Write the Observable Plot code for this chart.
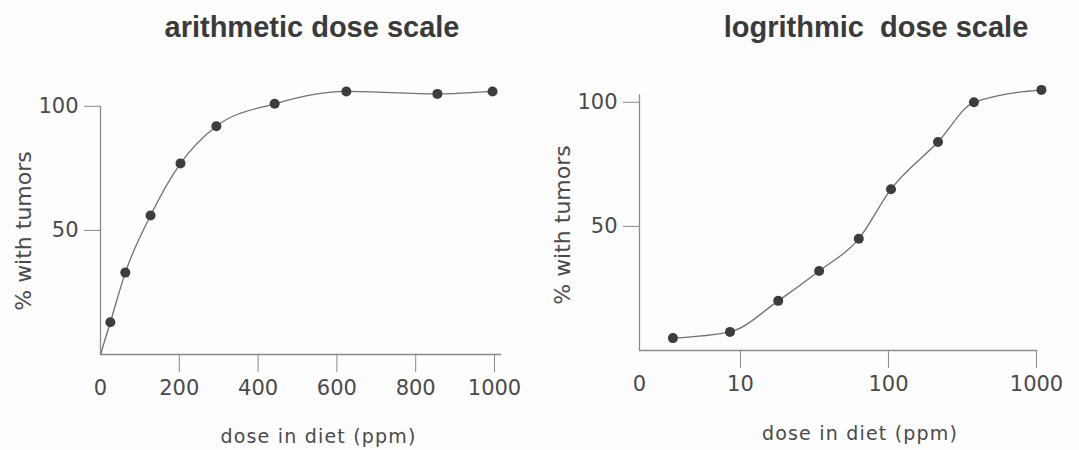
<!DOCTYPE html>
<html><head><meta charset="utf-8">
<script src="https://cdn.jsdelivr.net/npm/d3@7"></script>
<script src="https://cdn.jsdelivr.net/npm/@observablehq/plot@0.6"></script>
<style>
body{margin:0;background:#fdfdfd;}
#wrap{position:relative;width:1079px;height:450px;overflow:hidden;background:#fdfdfd;}
.title{position:absolute;top:13px;font:bold 29px "Liberation Sans",Arial,sans-serif;color:#3a3a3a;white-space:pre;transform:translateX(-50%);line-height:29px;}
.panel{position:absolute;top:50px;}
</style></head><body>
<div id="wrap">
  <div class="title" id="t1"></div>
  <div class="title" id="t2"></div>
  <div class="panel" id="p1" style="left:0px"></div>
  <div class="panel" id="p2" style="left:540px"></div>
</div>
<script>
// ---- data ----
const titles = ["arithmetic dose scale", "logrithmic  dose scale"];
const xLabel = "dose in diet (ppm)";
const yLabel = "% with tumors";

// arithmetic panel
const arithDose = [25, 63, 127, 203, 294, 442, 624, 855, 995];
const arithPct  = [13, 33, 56, 77, 92, 101, 106, 105, 106];
const arithStart = {dose: 0, pct: 0};
const arithTicks = [200, 400, 600, 800, 1000];
const arithTickLabels = [0, 200, 400, 600, 800, 1000];
const yTicks = [50, 100];

// logarithmic panel
const logDose = [3.5, 8.5, 18, 34, 63, 104, 216, 378, 1080];
const logPct  = [5, 7.5, 20, 32, 45, 65, 84, 100, 105];
const logMin = 2.08;
const logTicks = [10, 100, 1000];
const logTickLabels = [logMin, 10, 100, 1000];

// ---- build ----
document.getElementById("t1").textContent = titles[0];
document.getElementById("t1").style.left = "312px";
document.getElementById("t2").textContent = titles[1];
document.getElementById("t2").style.left = "876px";

const axisColor = "#8a8a8a";
const lineColor = "#707070";
const dotColor = "#3d3d3d";
const textColor = "#4a4a4a";

const arithRows = arithDose.map((d, i) => ({dose: d, pct: arithPct[i]}));
const logRows = logDose.map((d, i) => ({dose: d, pct: logPct[i]}));

function styleLabel(svg) {
  d3.select(svg).selectAll("text")
    .filter(function() { return this.textContent === xLabel; })
    .style("letter-spacing", "1.2px");
}

const left = Plot.plot({
  width: 540, height: 400,
  marginLeft: 100, marginRight: 46, marginTop: 31, marginBottom: 96,
  x: {type: "linear", domain: [0, 1000]},
  y: {domain: [0, 110]},
  style: {background: "transparent", color: textColor, fontFamily: "'DejaVu Sans', sans-serif", fontSize: "21px"},
  marks: [
    Plot.ruleY([0], {x1: 0, x2: 1018, stroke: axisColor, strokeWidth: 1.3}),
    Plot.ruleX([0], {y1: 0, y2: 100, stroke: axisColor, strokeWidth: 1.3}),
    Plot.axisY({ticks: yTicks, tickSize: 16, tickPadding: 6, stroke: axisColor, label: null, fontSize: 21}),
    Plot.axisX({ticks: arithTicks, tickSize: 18, tickFormat: () => "", stroke: axisColor, label: null}),
    Plot.axisX({ticks: arithTickLabels, tickSize: 0, tickPadding: 26, label: null, fontSize: 21, tickFormat: d => String(d)}),
    Plot.line([arithStart, ...arithRows], {x: "dose", y: "pct", curve: "monotone-x", stroke: lineColor, strokeWidth: 1.3}),
    Plot.dot(arithRows, {x: "dose", y: "pct", r: 5, fill: dotColor}),
    Plot.text([xLabel], {text: d => d, frameAnchor: "bottom", dx: 21, dy: 82, lineAnchor: "middle", fontSize: 19, fill: textColor}),
    Plot.text([yLabel], {text: d => d, frameAnchor: "left", textAnchor: "middle", rotate: -90, dx: -77, dy: 13, lineAnchor: "middle", fontSize: 22, fill: textColor})
  ]
});
styleLabel(left);
document.getElementById("p1").appendChild(left);

const right = Plot.plot({
  width: 539, height: 400,
  marginLeft: 99, marginRight: 43, marginTop: 27, marginBottom: 100,
  x: {type: "log", domain: [logMin, 1000]},
  y: {domain: [0, 110]},
  style: {background: "transparent", color: textColor, fontFamily: "'DejaVu Sans', sans-serif", fontSize: "21px"},
  marks: [
    Plot.ruleY([0], {x1: logMin, x2: 1020, stroke: axisColor, strokeWidth: 1.3}),
    Plot.ruleX([logMin], {y1: 0, y2: 103, stroke: axisColor, strokeWidth: 1.3}),
    Plot.axisY({ticks: yTicks, tickSize: 16, tickPadding: 6, stroke: axisColor, label: null, fontSize: 21}),
    Plot.axisX({ticks: logTicks, tickSize: 18, tickFormat: () => "", stroke: axisColor, label: null}),
    Plot.axisX({ticks: logTickLabels, tickSize: 0, tickPadding: 26, label: null, fontSize: 21, tickFormat: d => d === logMin ? "0" : String(d)}),
    Plot.line(logRows, {x: "dose", y: "pct", curve: "monotone-x", stroke: lineColor, strokeWidth: 1.3}),
    Plot.dot(logRows, {x: "dose", y: "pct", r: 5, fill: dotColor, clip: false}),
    Plot.text([xLabel], {text: d => d, frameAnchor: "bottom", dx: 22, dy: 83, lineAnchor: "middle", fontSize: 19, fill: textColor}),
    Plot.text([yLabel], {text: d => d, frameAnchor: "left", textAnchor: "middle", rotate: -90, dx: -77, dy: 11, lineAnchor: "middle", fontSize: 22, fill: textColor})
  ]
});
styleLabel(right);
document.getElementById("p2").appendChild(right);
</script>
</body></html>
